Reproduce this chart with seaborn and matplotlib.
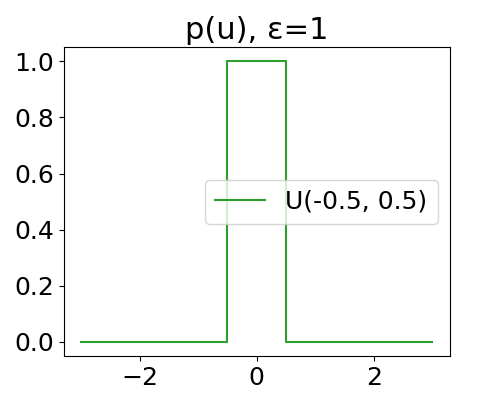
import matplotlib
matplotlib.use("Agg")
import matplotlib.pyplot as plt
import seaborn as sns
import pandas as pd

# step outline of the uniform density U(-0.5, 0.5)
u_vals = [-3.0, -0.5, -0.5, 0.5, 0.5, 3.0]
p_vals = [0.0, 0.0, 1.0, 1.0, 0.0, 0.0]
label = "U(-0.5, 0.5)"

df = pd.DataFrame({"u": u_vals, "p": p_vals})

plt.rcParams["font.size"] = 18

fig, ax = plt.subplots(figsize=(5, 4), dpi=100)
sns.lineplot(data=df, x="u", y="p", estimator=None, sort=False,
             color="tab:green", label=label, ax=ax)

ax.set_title("p(u), ε=1", fontsize=22)
ax.set_xlabel("")
ax.set_ylabel("")
ax.tick_params(labelsize=18)
ax.legend(loc="center right", fontsize=18)

fig.subplots_adjust(left=0.127, right=0.9, top=0.882, bottom=0.11)
fig.savefig("out.png", dpi=100)
plt.close(fig)
